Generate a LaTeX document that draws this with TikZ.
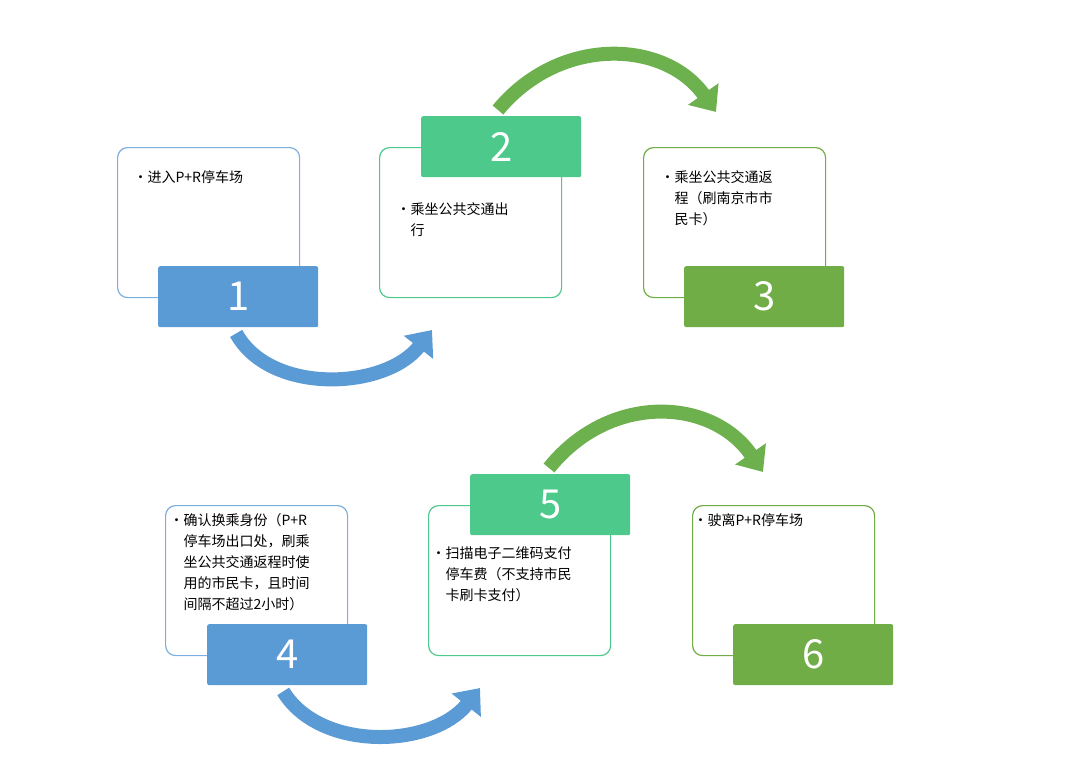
\documentclass[tikz,border=0pt]{standalone}
\usepackage{fontspec}
\setmainfont{Noto Sans CJK SC}
\usetikzlibrary{arrows.meta}
\definecolor{cblue}{HTML}{5B9BD5}
\definecolor{cteal}{HTML}{4EC98C}
\definecolor{cgreen}{HTML}{70AD47}
\tikzset{
  card/.style={draw=#1,line width=1.2pt,rounded corners=10pt,fill=white,
               minimum width=182pt,minimum height=150pt,anchor=north west},
  tab/.style={fill=#1,rounded corners=2pt,minimum width=160pt,minimum height=61pt,
              anchor=north west,text=white,font=\fontsize{40}{40}\selectfont},
  txt/.style={anchor=north west,align=left,font=\fontsize{14}{21}\selectfont},
  flow/.style={draw=#1,line width=14pt,-{Triangle[length=22pt,width=36pt]}}
}
\begin{document}
\begin{tikzpicture}[x=1pt,y=-1pt]
\useasboundingbox (0,0) rectangle (1072,766);
% les cartes
\node[card=cblue!80] (c1) at (117,147) {};
\node[card=cteal] (c2) at (379,147) {};
\node[card=cgreen] (c3) at (643,147) {};
\node[card=cblue!80] (c4) at (165,505) {};
\node[card=cteal] (c5) at (428,505) {};
\node[card=cgreen] (c6) at (692,505) {};
% les onglets
\node[tab=cblue] (t1) at (158,266) {1};
\node[tab=cteal] (t2) at (421,116) {2};
\node[tab=cgreen] (t3) at (684,266) {3};
\node[tab=cblue] (t4) at (207,624) {4};
\node[tab=cteal] (t5) at (470,474) {5};
\node[tab=cgreen] (t6) at (733,624) {6};
% les textes
\node[txt] (x1) at (130,167) {•进入P+R停车场};
\node[txt] (x2) at (393,199) {•乘坐公共交通出\\\phantom{•}行};
\node[txt] (x3) at (657,167) {•乘坐公共交通返\\\phantom{•}程（刷南京市市\\\phantom{•}民卡）};
\node[txt] (x4) at (166,510) {•确认换乘身份（P+R\\\phantom{•}停车场出口处，刷乘\\\phantom{•}坐公共交通返程时使\\\phantom{•}用的市民卡，且时间\\\phantom{•}间隔不超过2小时）};
\node[txt] (x5) at (428,543) {•扫描电子二维码支付\\\phantom{•}停车费（不支持市民\\\phantom{•}卡刷卡支付）};
\node[txt] (x6) at (690,510) {•驶离P+R停车场};
% les fleches
\draw[flow=cblue] ([xshift=-2pt,yshift=-6pt]t1.south) .. controls (270,395) and (385,390) .. (432,330);
\draw[flow=cgreen!90!cteal] ([xshift=-2pt,yshift=6pt]t2.north west -| 500,0) .. controls (560,35) and (665,40) .. (716,112);
\draw[flow=cblue] ([xshift=-4pt,yshift=-6pt]t4.south) .. controls (320,752) and (432,748) .. (480,688);
\draw[flow=cgreen!90!cteal] ([yshift=6pt]t5.north west -| 549,0) .. controls (610,392) and (712,398) .. (763,472);
\end{tikzpicture}
\end{document}
